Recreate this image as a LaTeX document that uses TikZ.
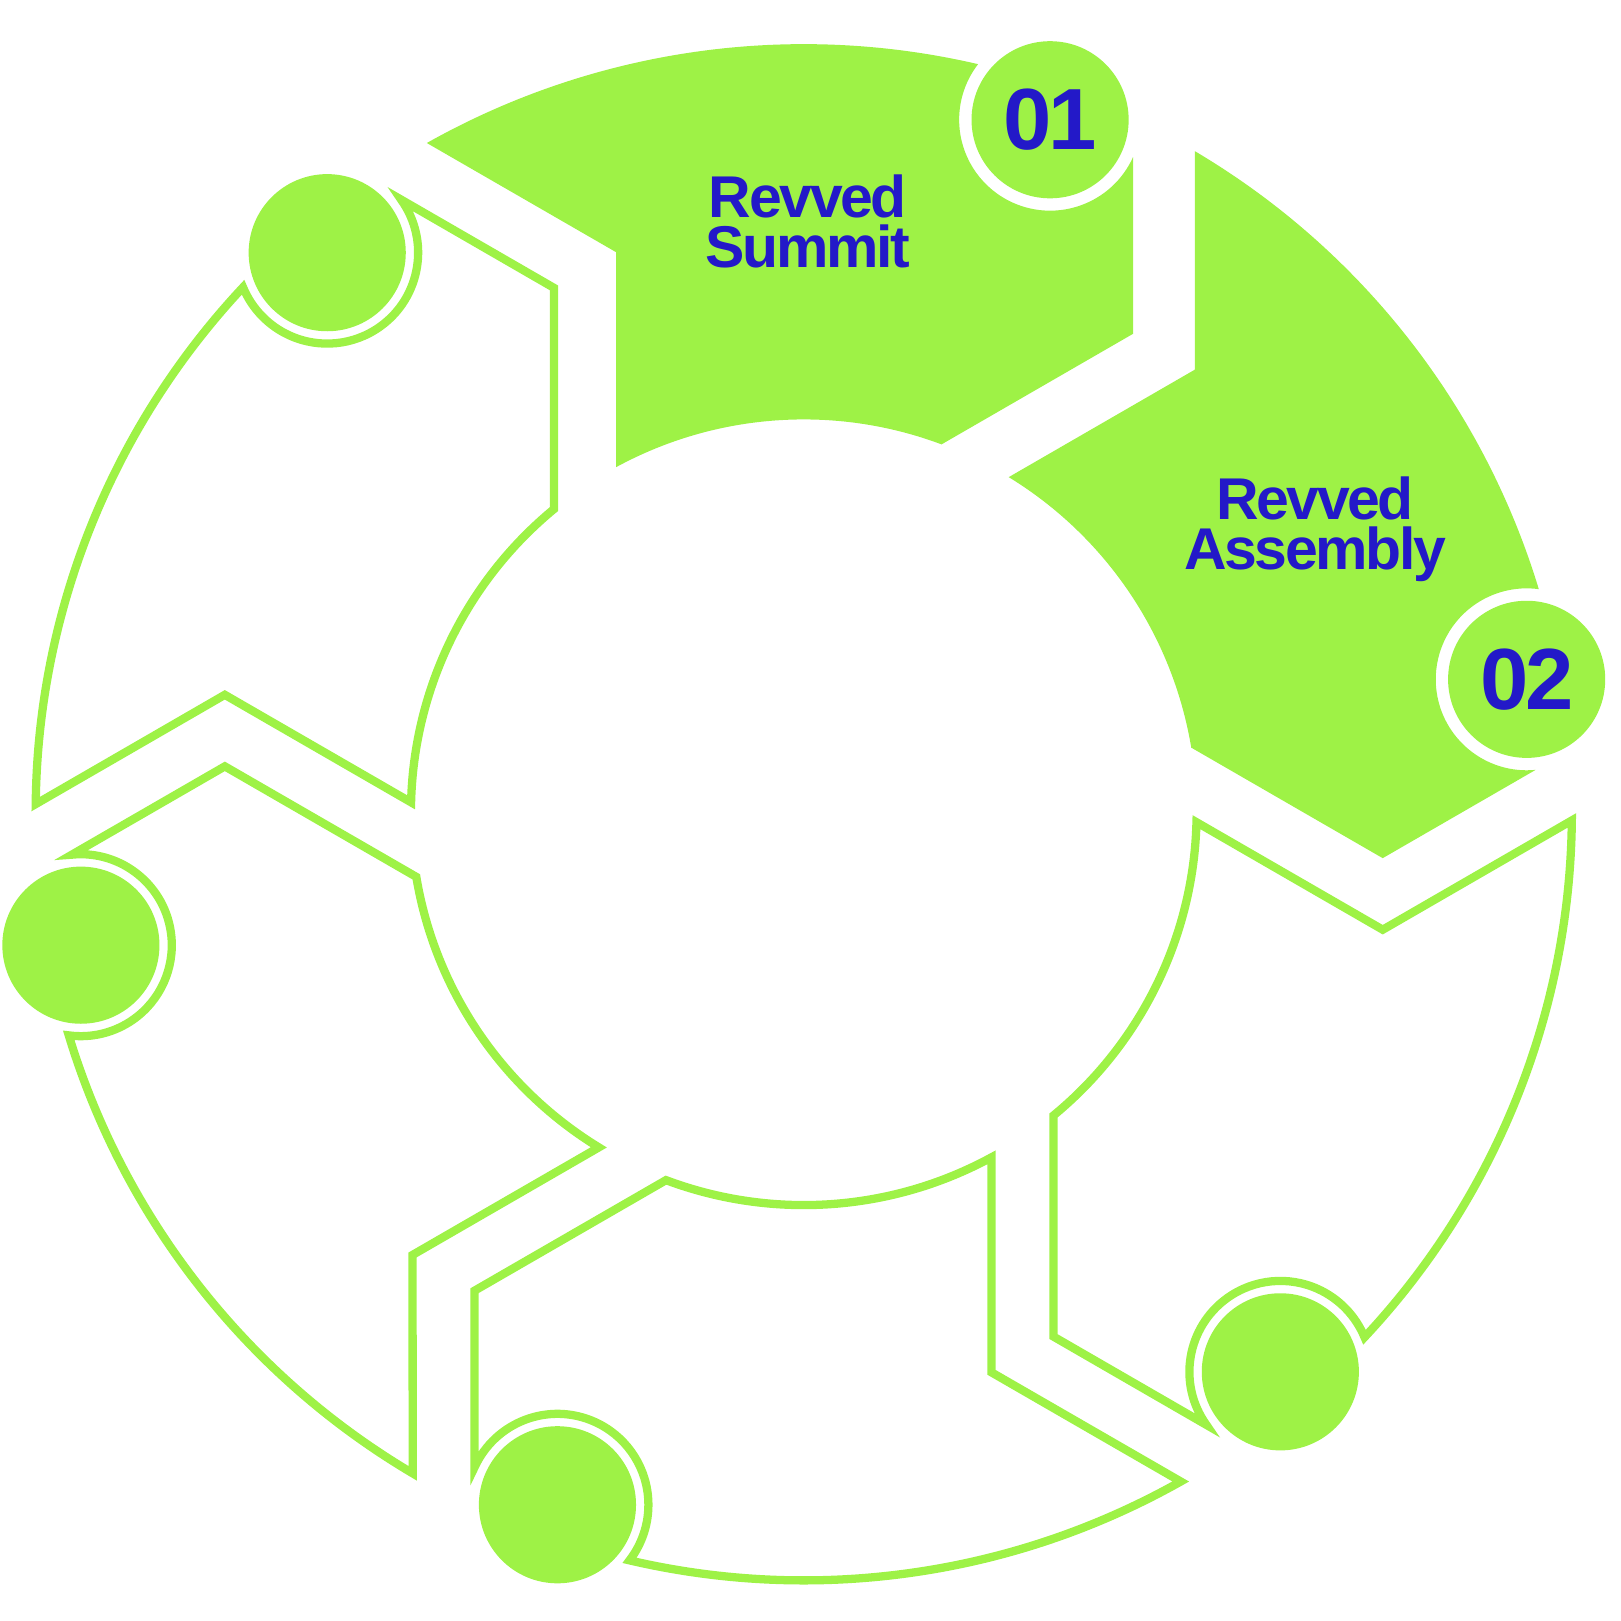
\documentclass[tikz,border=0pt]{standalone}
\usepackage{fontspec}
\setmainfont{Liberation Sans}
\newfontfamily\tagfont{Liberation Sans}[LetterSpace=-4]
\definecolor{cyclegreen}{HTML}{9EF246}
\definecolor{cycleblue}{HTML}{2319C8}

% one ring piece, head at 0 deg, tail at 60 deg, dot bitten out near the head
\newcommand{\segpath}{(9.47:380) -- (560,-44.4) -- (707.98,41.03)
  arc[start angle=-84.34, end angle=-277.62, radius=88]
  arc[start angle=16.885, end angle=59.39, radius=743] -- (378.4,428.2) -- (58.55:380)
  arc[start angle=58.55, end angle=9.47, radius=380] -- cycle}

\begin{document}
\begin{tikzpicture}[x=1pt, y=1pt,
  band/.style = {draw=cyclegreen, line width=8pt},
  dot/.style = {circle, fill=cyclegreen, minimum size=152pt, inner sep=0pt},
  numdot/.style = {dot, text=cycleblue, font=\tagfont\bfseries\fontsize{84}{84}\selectfont},
  title/.style = {anchor=base, inner sep=0pt, text=cycleblue, font=\tagfont\bfseries\fontsize{57}{57}\selectfont}]
\useasboundingbox (-777.5,-782.3) rectangle (790.5,785.7);

% filled pieces
\begin{scope}
\fill[cyclegreen] \segpath;
\node[numdot] (n2) at (10.42:711) {02};
\end{scope}
\begin{scope}[rotate=60]
\fill[cyclegreen] \segpath;
\node[numdot] (n1) at (10.42:711) {01};
\end{scope}

% outlined pieces
\begin{scope}[rotate=120]
\draw[band] \segpath;
\node[dot] (d6) at (10.42:711) {};
\end{scope}
\begin{scope}[rotate=180]
\draw[band] \segpath;
\node[dot] (d5) at (10.42:711) {};
\end{scope}
\begin{scope}[rotate=240]
\draw[band] \segpath;
\node[dot] (d4) at (10.42:711) {};
\end{scope}
\begin{scope}[rotate=300]
\draw[band] \segpath;
\node[dot] (d3) at (10.42:711) {};
\end{scope}

% labels
\node[title] (revvedA) at (4,575) {Revved};
\node[title] (summit) at (4,527) {Summit};
\node[title] (revvedB) at (494.5,283) {Revved};
\node[title] (assembly) at (494.5,235) {Assembly};
\end{tikzpicture}
\end{document}
